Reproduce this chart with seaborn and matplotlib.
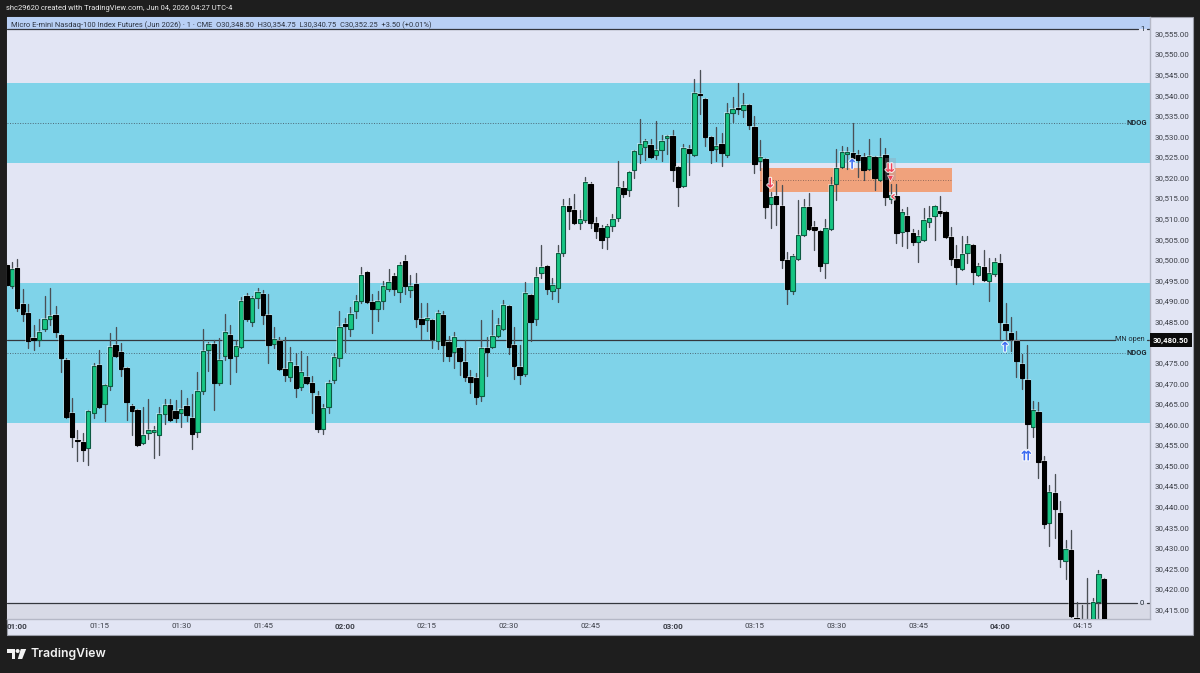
import numpy as np
import pandas as pd
import seaborn as sns
import matplotlib
matplotlib.use("Agg")
import matplotlib.pyplot as plt
import matplotlib.patheffects as pe
from matplotlib.patches import Polygon, Rectangle, Ellipse

# Prices are listed as offsets from the base so the columns stay readable.
PRICE_BASE = 30000
bar_index = np.arange(-2, 200)

opens = [
    498.75,493.5,498,489.25,487,481,480.5,483.25,485.5,486.5,
    481.75,475.75,462.75,456.25,455.75,454.25,462.75,474.5,465,469.25,
    479.25,477.5,473.75,464.5,463.5,455.5,458,458.25,457.5,462.5,
    464.75,463.25,462.75,464.5,461.5,458.25,468,478,479.5,470,
    476.5,481.75,476.5,478.75,491.25,484.75,490.75,491.75,486.5,479.5,
    480.25,473.5,471.5,474.25,469,471.5,470,467,458.75,464.25,
    470.75,476,484.5,483.25,487.5,490,497,489.75,488,490,
    493,496,492.25,499.75,492.75,494,485.5,485.25,485.25,480.25,
    486.5,480,477.5,478.5,475.25,471.5,471.25,467,478.5,478.75,
    481.5,483.25,488.75,479.25,474,472.25,491.5,485.5,496.75,498.5,
    492.5,493.25,501.75,513,512,509,509.75,518.5,509,507.75,
    505.5,508.25,510.25,517.5,517,521.75,525.75,527.5,528,525.5,
    526.75,529.5,530,522.5,518,527,525.5,540.25,539,529.75,
    527,528.25,525.5,535.75,537,536.5,537.5,532.25,524,524.5,
    513.5,515.5,513,500,492.5,500.25,506,512.75,508,507,
    499.25,507.5,518.5,522.5,525.75,526,525.5,525,522,525,
    519.5,525.5,514.75,515.5,506.75,510.75,506.5,504.25,504.75,509.25,
    510.75,511.75,511.5,505.5,500.25,497.75,501.75,503.5,496.25,498.25,
    494.75,496.5,499.25,484.5,482.25,480.25,474.75,470.75,459.25,463,
    451,436,443.25,438.5,426.75,429.5,413,412,412,411,416.75,422.5,
]
highs = [
    499.25,499.5,500.25,493,489.25,484.25,485.5,491.25,493.25,488.75,
    482,476,466.5,458.5,458,463.5,475,478,469.75,482.25,
    483.75,479.75,474,465,463.75,464.25,466.25,459.5,464.25,466.25,
    466.25,466,468.25,466.5,467.25,472.75,483.25,480,480.5,481,
    486.75,484.25,480.5,491,492,491.25,493.25,492.75,491.75,483.75,
    481.25,481.25,478.75,477.25,477.75,476.5,471.75,468,465,470.75,
    477.25,487.5,485.75,488.5,491.5,498.25,497.25,491.75,492.5,494.75,
    497.75,496.75,499.5,501.25,496.25,496.75,489.5,489.5,485.5,487.75,
    487.5,481.5,482.5,478.75,480.5,473.25,472.5,485.25,481.25,487.75,
    485.75,490.25,489,483.75,479.25,494.5,491.75,498.25,503.5,498.75,
    495.5,503.5,514.75,515,516,512,520,519,510.5,508.5,
    508.75,511,524,519.25,521.5,526.75,534.25,529.25,529.25,533.75,
    530.25,530.25,531.5,522.75,528.25,528,544,546,539.25,530,
    532.25,530.75,538,539.5,543,540.5,537.75,535,529,524.75,
    516.5,519.25,518.25,502,501.5,514.5,514.75,516.25,509.5,507.25,
    510,520,527,527.75,527.5,533.25,526.75,526,529.25,525.25,
    529.5,527.25,518.5,518.5,512.25,512.75,507.5,507.25,512.5,513,
    513.25,515.5,511.75,508,503.5,505.75,505.75,503.75,499.25,502.25,
    500.5,500.5,501.5,489.5,486,482.75,477,479.25,465.75,465.5,
    452.25,445.25,448,441.25,432,434.25,416.75,416,422.75,417.75,424.5,422.75,
]
lows = [
    493.5,493.25,487.5,485,478.5,478,479,482.75,484.25,481.25,
    472.75,461.5,454.5,451,451,450,461.5,464,460.75,468.25,
    476.25,471.75,461,457.5,454.75,455.25,456.5,451.75,452.5,460,
    460.75,460.5,459.25,460.75,454,457,467.25,473,463.5,469.5,
    475.75,469.75,472.75,478.5,485,484,488.25,484.5,475,478.5,
    473.25,470.5,470.5,466.75,468.25,469.75,462.75,458.25,457.75,462.75,
    470,474.25,477.5,481.5,485.75,489.5,489.5,482.25,485,488,
    492.5,491.5,489.75,491.75,491,483.75,480.75,482.75,478.5,478.25,
    475.5,475.5,473.75,472,470.5,467.5,465,465.75,471.75,478.5,
    481.25,483,477,471,469.75,471.75,480.25,484.25,495.5,491.75,
    490.5,489.75,501,507.5,508.75,507.5,509.25,507.75,505.25,502.75,
    502.5,507,509.5,515.25,515.5,519.75,523.5,524.25,524.75,524.5,
    524,525.75,519.25,513,517.75,520.5,525.25,535.5,527.75,523.5,
    524,522.75,525,533.5,535.5,534.75,531.75,521,521.75,510.25,
    507.75,508.5,498,489.25,491.75,500,505.75,507.25,502.25,497.25,
    495.5,507.25,514.5,522.25,522,524,520,519.5,521.75,517,
    519.25,513.25,513.75,504,503.25,502.75,503.5,499.5,504.5,508,
    504.75,510.75,505.25,498.75,494,497.5,499.25,494,496,494.75,
    490,496,480.75,480.5,477.75,471.5,468.5,454.25,457,447,
    434.75,430.5,432.25,425.25,422.5,413.25,408,405,405,409,411,408,
]
closes = [
    493.75,497.75,488.25,486.75,480.25,480.5,482.5,485.5,486.25,482.5,
    476,461.75,457,456,453.75,463.25,474.25,464.25,469.5,478.75,
    476.5,473.5,465.5,463.25,455,457.5,458.5,458.5,462.5,464.75,
    461,461.5,463.75,462.25,457.75,468,477.75,479.5,470,475.75,
    482.5,476,479,490,485.5,490.75,492.25,486.5,479.25,480.75,
    473.5,472,475.25,468.75,472.75,470,467.75,458.75,464,470,
    476.25,483.75,484,486.75,490,496.25,489.75,488,490,493.5,
    494.5,493,498.75,493.5,493.5,485.5,484.5,485.75,480.75,487,
    479.25,476.5,481.25,475.5,471.5,470.25,466.75,478.5,477.5,481.5,
    484.25,489,478.75,474.25,472,492,484.75,495.75,498.25,493,
    493.75,501.75,513,511.75,509,510,519,509,507,504.75,
    508.25,510,517.75,516,521.25,526.5,528.25,528.75,525,526.75,
    528.75,530,521.75,517.75,527.25,526,540.5,540,529.75,526.75,
    527.75,526,535.75,536.75,536.75,537.5,532.75,523.25,525,512.75,
    515.25,513.5,500,493,501,506,512.75,507.5,507.25,498.5,
    507.75,518.25,522.25,526.25,526.25,524.75,524.25,521.75,525.25,519.75,
    525,515.25,515.75,506.5,511.5,507,504.25,505.75,509.75,510.25,
    513,511.25,505.5,500.25,498.25,501.5,503.75,497,498.5,495,
    496.75,499.5,484.75,483,480.75,475.5,471.25,460,463.5,450.75,
    435.75,443.5,439.5,427.25,429.75,413.5,410,408,408,416.75,423.5,409,
]

# Session zones, order block and reference levels
ndog_zones = [(30523.6, 30542.9), (30460.4, 30494.3)]
ndog_mids = [30533.25, 30477.35]
block_low, block_high = 30516.4, 30522.25
block_start, block_end = 136.0, 171.1
month_open = 30480.5
target_level = 30556.1
stop_level = 30416.5

time_ticks = np.arange(0, 196, 15)
time_labels = ["01:00", "01:15", "01:30", "01:45", "02:00", "02:15", "02:30",
               "02:45", "03:00", "03:15", "03:30", "03:45", "04:00", "04:15"]
# The 30,480 label sits under the month-open price tag, so it is left out.
price_ticks = [p for p in range(30415, 30556, 5) if p != 30480]

up_marks = [(152.9, 30523.0), (180.9, 30478.55)]
down_marks = [(137.9, 30518.4)]

header_text = "shc29620 created with TradingView.com, Jun 04, 2026 04:27 UTC-4"
legend_text = ("Micro E-mini Nasdaq-100 Index Futures (Jun 2026) · 1 · CME  O30,348.50  "
               "H30,354.75  L30,340.75  C30,352.25  +3.50 (+0.01%)")

DARK = "#1e1e1e"
PANE = "#e2e5f4"
ZONE = "#7fd3e9"
BULL = "#17c583"
BULL_EDGE = "#0d5a42"
WICK = "#4a4f55"
TEXT = "#3a3d45"
W, H = 1200, 673
UI_FONT = ["Roboto", "Noto Sans", "DejaVu Sans"]

sns.set_theme(style="white")
plt.rcParams["font.family"] = UI_FONT

fig = plt.figure(figsize=(W / 100, H / 100), dpi=100, facecolor=DARK)


def fx(px):
    return px / W


def fy(py):
    return 1 - py / H


# Price and time scale strips behind the pane
fig.patches.append(Rectangle((fx(6.5), fy(635)), fx(1186.5), (635 - 17) / H, transform=fig.transFigure,
                             facecolor=PANE, edgecolor="#9a9da8", linewidth=0.8, figure=fig, zorder=-1))

ax = fig.add_axes([fx(6.5), fy(618.5), fx(1143), (618.5 - 17) / H], facecolor=PANE)

candles = pd.DataFrame({
    "bar": bar_index,
    "open": PRICE_BASE + np.array(opens),
    "high": PRICE_BASE + np.array(highs),
    "low": PRICE_BASE + np.array(lows),
    "close": PRICE_BASE + np.array(closes),
})
candles["top"] = candles[["open", "close"]].max(axis=1)
candles["bottom"] = candles[["open", "close"]].min(axis=1)
candles["span"] = (candles["top"] - candles["bottom"]).clip(lower=0.25)
rising = candles["close"] >= candles["open"]

for low_edge, high_edge in ndog_zones:
    ax.axhspan(low_edge, high_edge, color=ZONE, lw=0, zorder=0.5)
ax.axhspan(stop_level, 30400, color="#d8dae6", lw=0, zorder=0.5)
ax.axhspan(target_level, 30570, color="#b9d0f5", lw=0, zorder=0.5)

ax.add_patch(Rectangle((block_start, block_low), block_end - block_start, block_high - block_low,
                       facecolor="#f0a27c", edgecolor="none", zorder=0.8))
ax.plot([block_start, block_end], [(block_low + block_high) / 2] * 2, color="#7a5a50",
        lw=0.6, ls=(0, (1, 2)), zorder=0.9)

trans = ax.get_yaxis_transform()
for mid in ndog_mids:
    ax.plot([0, 0.9785], [mid, mid], transform=trans, color="#4d6a78", lw=0.7, ls=(0, (1, 1.6)), zorder=1)
    ax.text(0.9975, mid, "NDOG", transform=trans, ha="right", va="center", fontsize=5.4, fontweight="bold",
            color="#1f2a33", zorder=6)

for level, line_end in [(month_open, 0.9698), (target_level, 0.9898), (stop_level, 0.9888)]:
    ax.plot([0, line_end], [level, level], transform=trans, color="#34373d", lw=0.9, zorder=1.2)
    ax.plot([0.9978, 1], [level, level], transform=trans, color="#34373d", lw=0.9, zorder=1.2)
ax.text(0.9955, month_open, "MN open", transform=trans, ha="right", va="center", fontsize=5.2, color="#1f2a33")
ax.text(0.9955, target_level, "1", transform=trans, ha="right", va="center", fontsize=5.6, color="#1f2a33")
ax.text(0.9955, stop_level, "0", transform=trans, ha="right", va="center", fontsize=5.6, color="#1f2a33")

# Wicks as one vertical line per bar, long form keyed on the bar number
wicks = candles.melt(id_vars="bar", value_vars=["low", "high"], value_name="price")
sns.lineplot(data=wicks, x="bar", y="price", units="bar", estimator=None, color=WICK, linewidth=0.95,
             sort=False, ax=ax, zorder=2, legend=False)

halo = [pe.withStroke(linewidth=1.4, foreground="white", alpha=0.4)]
n_before = len(ax.patches)
sns.barplot(data=candles[rising], x="bar", y="span", bottom=candles.loc[rising, "bottom"].to_numpy(),
            native_scale=True, width=0.8, color=BULL, saturation=1, edgecolor=BULL_EDGE, linewidth=0.8,
            errorbar=None, ax=ax, zorder=3)
sns.barplot(data=candles[~rising], x="bar", y="span", bottom=candles.loc[~rising, "bottom"].to_numpy(),
            native_scale=True, width=0.8, color="#000000", saturation=1, edgecolor="#000000", linewidth=0.8,
            errorbar=None, ax=ax, zorder=3)
for bar in ax.patches[n_before:]:
    bar.set_path_effects(halo)

# Signal arrows, outlined so they stay legible over the candles
outline = [pe.withStroke(linewidth=1.6, foreground="white", alpha=0.8)]
arrow_style = dict(ha="center", va="center", zorder=5, family="DejaVu Sans", path_effects=outline,
                   fontweight="bold", fontsize=9.5)
for bar_x, price in up_marks:
    ax.text(bar_x, price, "↑", color="#3d6df2", **arrow_style)
for bar_x, price in down_marks:
    ax.text(bar_x, price, "↓", color="#f0435a", **arrow_style)
# Stacked sell signal: a tinted backing, a head marker and the double arrow
ax.add_patch(Rectangle((159.0, 30519.4), 1.9, 5.4, facecolor="#9a9aa8", edgecolor="none", alpha=0.3, zorder=4))
ax.plot([159.8], [30519.9], marker="v", markersize=4.5, color="#f0435a", markeredgecolor="white",
        markeredgewidth=0.4, zorder=5)
ax.text(159.8, 30522.2, "⇊", color="#f0435a", **{**arrow_style, "fontsize": 8.5})
ax.text(160.4, 30515.25, "‹", color="#f0435a", **arrow_style)
ax.text(184.8, 30452.1, "⇈", color="#3d6df2", **arrow_style)

# Scales
ax.set_xlim(-1.978, 207.36)
ax.set_ylim(30412.8, 30559.0)
ax.set_xlabel("")
ax.set_ylabel("")
ax.yaxis.tick_right()
ax.set_yticks(price_ticks)
ax.set_yticklabels([f"{p:,.2f}" for p in price_ticks], fontsize=5.7, color=TEXT)
ax.tick_params(axis="y", length=0, pad=4.0)
ax.set_xticks(time_ticks)
ax.set_xticklabels(time_labels, fontsize=5.75, color=TEXT)
ax.tick_params(axis="x", length=0, pad=3.4)
for lbl in ax.get_xticklabels():
    if lbl.get_text().endswith(":00"):
        lbl.set_fontweight("bold")
for side, spine in ax.spines.items():
    spine.set_visible(side in ("right", "bottom"))
    spine.set_color("#b5b8c6")
    spine.set_linewidth(1)

# Last-level price tag on the scale
fig.patches.append(Rectangle((fx(1150), fy(347)), fx(41.5), 13.5 / H, transform=fig.transFigure,
                             facecolor="#0b0b0b", edgecolor="none", figure=fig, zorder=5))
fig.text(fx(1171), fy(340.3), f"{month_open:,.2f}", ha="center", va="center", fontsize=5.7, fontweight="bold",
         color="white", zorder=6)

# Title texts
fig.text(fx(6), fy(9), header_text, ha="left", va="center", fontsize=5.4, color="#ececec")
fig.text(fx(11), fy(25), legend_text, ha="left", va="center", fontsize=5.4, color="#2c3340", zorder=6)

# Wordmark in the footer
mark_color = "#f2f2f2"
fig.patches.extend([
    Polygon([(fx(7.3), fy(649)), (fx(15.3), fy(649)), (fx(15.3), fy(659)), (fx(11.7), fy(659)), (fx(11.7), fy(653.2)), (fx(7.3), fy(653.2))],
            transform=fig.transFigure, facecolor=mark_color, edgecolor="none", figure=fig),
    Ellipse((fx(17.6), fy(651)), fx(4), 4 / H, transform=fig.transFigure, facecolor=mark_color, edgecolor="none", figure=fig),
    Polygon([(fx(20.8), fy(649)), (fx(26.2), fy(649)), (fx(22.2), fy(659)), (fx(17.8), fy(659))],
            transform=fig.transFigure, facecolor=mark_color, edgecolor="none", figure=fig),
])
fig.text(fx(30.5), fy(654), "TradingView", ha="left", va="center", fontsize=8.8, fontweight="semibold", color=mark_color,
         family="Inter")

fig.savefig("out.png", dpi=100, facecolor=DARK)
